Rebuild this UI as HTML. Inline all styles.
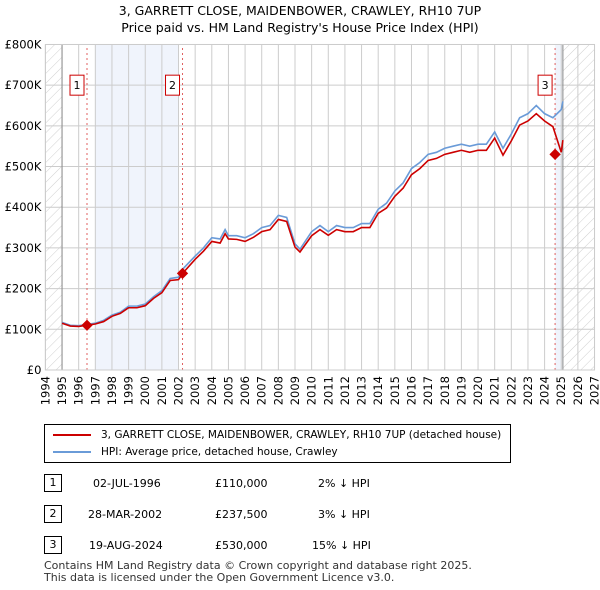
<!DOCTYPE html>
<html><head><meta charset="utf-8"><style>
body{margin:0;background:#fff;font-family:"DejaVu Sans","Liberation Sans",sans-serif;}
#wrap{position:relative;width:600px;height:590px;overflow:hidden}
.t{position:absolute;font-size:11px;color:#000}
svg text{font-family:"DejaVu Sans","Liberation Sans",sans-serif}
</style></head><body><div id="wrap">
<div class="t" style="left:0;width:600px;text-align:center;top:2px;font-size:12.5px;line-height:17px">3, GARRETT CLOSE, MAIDENBOWER, CRAWLEY, RH10 7UP<br>Price paid vs. HM Land Registry's House Price Index (HPI)</div>
<svg id="chart" width="600" height="420" style="position:absolute;left:0;top:0">
<defs><pattern id="hatch" width="7" height="7" patternUnits="userSpaceOnUse" patternTransform="rotate(45)"><line x1="0" y1="0" x2="0" y2="7" stroke="#d0d0d0" stroke-width="1"/></pattern></defs>
<g id="g"></g></svg>
<div style="position:absolute;left:44px;top:424px;width:465px;height:37px;border:1px solid #000;font-size:10.5px">
<div style="position:absolute;left:8px;top:4px;white-space:nowrap"><span style="display:inline-block;width:38px;height:2px;background:#cc0000;vertical-align:middle;margin-right:10px"></span>3, GARRETT CLOSE, MAIDENBOWER, CRAWLEY, RH10 7UP (detached house)</div>
<div style="position:absolute;left:8px;top:21px"><span style="display:inline-block;width:38px;height:2px;background:#6a9bd8;vertical-align:middle;margin-right:10px"></span>HPI: Average price, detached house, Crawley</div>
</div>
<div>
<div class="t" style="left:44px;top:474px;width:16px;height:16px;border:1px solid #000;text-align:center;line-height:16px">1</div>
<div class="t" style="left:93px;top:477px">02-JUL-1996</div><div class="t" style="left:215px;top:477px">£110,000</div><div class="t" style="left:318px;top:477px">2% ↓ HPI</div>
<div class="t" style="left:44px;top:505px;width:16px;height:16px;border:1px solid #000;text-align:center;line-height:16px">2</div>
<div class="t" style="left:88px;top:508px">28-MAR-2002</div><div class="t" style="left:215px;top:508px">£237,500</div><div class="t" style="left:318px;top:508px">3% ↓ HPI</div>
<div class="t" style="left:44px;top:536px;width:16px;height:16px;border:1px solid #000;text-align:center;line-height:16px">3</div>
<div class="t" style="left:89px;top:539px">19-AUG-2024</div><div class="t" style="left:215px;top:539px">£530,000</div><div class="t" style="left:312px;top:539px">15% ↓ HPI</div>
</div>
<div class="t" style="left:44px;top:560px;font-size:11px;line-height:12px;color:#333">Contains HM Land Registry data © Crown copyright and database right 2025.<br>This data is licensed under the Open Government Licence v3.0.</div>
<script>
const years=[1995,1995.5,1996,1996.5,1997,1997.5,1998,1998.5,1999,1999.5,2000,2000.5,2001,2001.5,2002,2002.3,2003,2003.5,2004,2004.5,2004.8,2005,2005.5,2006,2006.5,2007,2007.5,2008,2008.5,2009,2009.3,2010,2010.5,2011,2011.5,2012,2012.5,2013,2013.5,2014,2014.5,2015,2015.5,2016,2016.5,2017,2017.5,2018,2018.5,2019,2019.5,2020,2020.5,2021,2021.5,2022,2022.5,2023,2023.5,2024,2024.5,2025,2025.1];
const hpi=[117,110,109,112,115,122,135,142,157,157,162,180,195,225,228,250,280,300,325,322,345,330,330,325,335,350,355,380,375,310,297,340,355,340,355,350,350,360,360,395,410,440,460,495,510,530,535,545,550,555,550,555,555,585,545,580,620,630,650,630,620,640,660];
const price=[115,108,107,110,113,119,132,139,153,153,158,176,190,220,222,240,272,292,316,312,335,322,321,316,326,340,345,370,365,302,290,330,345,331,345,340,340,350,350,385,398,427,447,480,495,515,520,530,535,540,535,540,540,570,528,563,602,612,630,612,598,535,565];
const sales=[[1996.5,110,"1"],[2002.24,237.5,"2"],[2024.63,530,"3"]];
const yTicks=[0,100,200,300,400,500,600,700,800];
const yLabels=["£0","£100K","£200K","£300K","£400K","£500K","£600K","£700K","£800K"];
const X0=45.4,PX=16.64,Y0=370,PY=0.4069;
const sx=y=>X0+(y-1994)*PX, sy=v=>Y0-v*PY;
const g=document.getElementById('g');const NS="http://www.w3.org/2000/svg";
function mk(t,a,name){const e=document.createElementNS(NS,t);for(const k in a)e.setAttribute(k,a[k]);


g.appendChild(e);return e;}
mk('rect',{x:sx(1994),y:sy(800),width:sx(1995)-sx(1994),height:sy(0)-sy(800),fill:'url(#hatch)'},'hatch-left');
mk('rect',{x:sx(2025.1),y:sy(800),width:sx(2027)-sx(2025.1),height:sy(0)-sy(800),fill:'url(#hatch)'},'hatch-right');
mk('rect',{x:sx(1997),y:sy(800),width:sx(2002)-sx(1997),height:sy(0)-sy(800),fill:'#f0f4fc'},'shade-1');
mk('rect',{x:sx(2024.63),y:sy(800),width:sx(2025.1)-sx(2024.63),height:sy(0)-sy(800),fill:'#f0f4fc'},'shade-2');
for(let y=1994;y<=2027;y++){mk('line',{x1:sx(y),x2:sx(y),y1:sy(0),y2:sy(800),stroke:'#ccc'},'x-grid');
const t=mk('text',{x:0,y:0,transform:`translate(${sx(y)+4},${sy(0)+6}) rotate(-90)`,'text-anchor':'end','font-size':11.5,fill:'#000'},'x-tick-label');t.textContent=y;}
yTicks.forEach((v,i)=>{mk('line',{x1:sx(1994),x2:sx(2027),y1:sy(v),y2:sy(v),stroke:'#ccc'},'y-grid');
const t=mk('text',{x:sx(1994)-4,y:sy(v)+4,'text-anchor':'end','font-size':11.5,fill:'#000'},'y-tick-label');t.textContent=yLabels[i];});
mk('line',{x1:sx(1995),x2:sx(1995),y1:sy(0),y2:sy(800),stroke:'#888'},'data-start');
mk('line',{x1:sx(2025.1),x2:sx(2025.1),y1:sy(0),y2:sy(800),stroke:'#888'},'data-end');
sales.forEach(s=>mk('line',{x1:sx(s[0]),x2:sx(s[0]),y1:sy(0),y2:sy(800),stroke:'#e06060','stroke-dasharray':'2,3'},'sale-line'));
const pts=a=>a.map((v,i)=>sx(years[i])+','+sy(v)).join(' ');
mk('polyline',{points:pts(hpi),fill:'none',stroke:'#6a9bd8','stroke-width':1.6},'hpi-line');
mk('polyline',{points:pts(price),fill:'none',stroke:'#cc0000','stroke-width':1.6},'price-line');
sales.forEach(s=>{mk('rect',{x:sx(s[0])-4,y:sy(s[1])-4,width:8,height:8,fill:'#cc0000',transform:`rotate(45 ${sx(s[0])} ${sy(s[1])})`},'sale-marker');
mk('rect',{x:sx(s[0])-17,y:sy(700)-10,width:14,height:20,fill:'#fff',stroke:'#cc0000'},'sale-label-box');
const t=mk('text',{x:sx(s[0])-10,y:sy(700)+4,'text-anchor':'middle','font-size':11},'sale-label');t.textContent=s[2];});
mk('rect',{x:sx(1994),y:sy(800),width:sx(2027)-sx(1994),height:sy(0)-sy(800),fill:'none',stroke:'#ccc'},'plot-border');
</script></div></body></html>
